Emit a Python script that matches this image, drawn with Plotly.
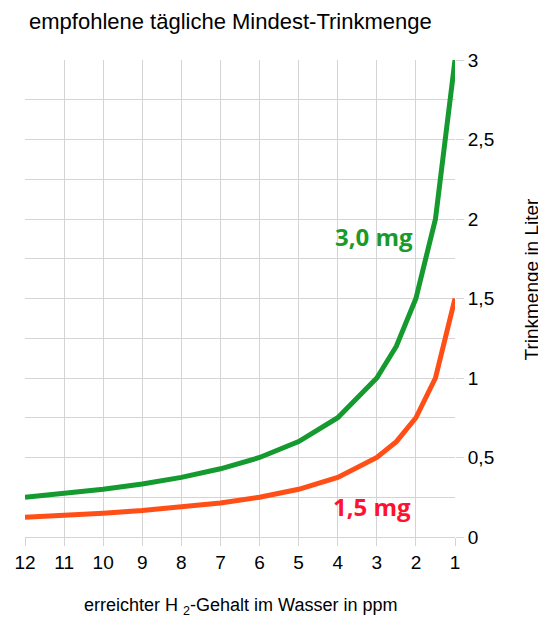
import plotly.graph_objects as go

ppm = [12, 11, 10, 9, 8, 7, 6, 5, 4, 3, 2.5, 2, 1.5, 1]
liter_3mg = [0.25, 0.273, 0.3, 0.333, 0.375, 0.429, 0.5, 0.6, 0.75, 1.0, 1.2, 1.5, 2.0, 3.0]
liter_15mg = [0.125, 0.136, 0.15, 0.167, 0.188, 0.214, 0.25, 0.3, 0.375, 0.5, 0.6, 0.75, 1.0, 1.5]
x_ticks = [12, 11, 10, 9, 8, 7, 6, 5, 4, 3, 2, 1]
y_ticks = [0, 0.5, 1, 1.5, 2, 2.5, 3]
y_labels = ["0", "0,5", "1", "1,5", "2", "2,5", "3"]

fig = go.Figure()
fig.add_trace(go.Scatter(x=ppm, y=liter_15mg, mode="lines",
                         line=dict(color="#ff4f17", width=5), name="1,5 mg"))
fig.add_trace(go.Scatter(x=ppm, y=liter_3mg, mode="lines",
                         line=dict(color="#149a2e", width=5), name="3,0 mg"))

grid = "#d4d4d4"
fig.update_layout(
    width=538, height=615,
    margin=dict(l=17, r=91, t=52, b=86, autoexpand=False),
    paper_bgcolor="white", plot_bgcolor="white",
    showlegend=False,
    font=dict(family="Liberation Sans, Arial, sans-serif", color="black"),
    xaxis=dict(range=[12, 1], tickvals=x_ticks, ticktext=[str(v) for v in x_ticks],
               showgrid=True, gridcolor=grid, gridwidth=1, zeroline=False,
               ticks="outside", ticklen=8, tickcolor=grid, automargin=False,
               showline=True, linecolor=grid, linewidth=1,
               tickfont=dict(size=19), fixedrange=True),
    yaxis=dict(range=[0, 3], side="right", tickvals=y_ticks, ticktext=y_labels,
               showgrid=True, gridcolor=grid, gridwidth=1, zeroline=False,
               minor=dict(dtick=0.25, showgrid=True, gridcolor=grid, gridwidth=1),
               ticks="outside", ticklen=8, tickcolor=grid, automargin=False,
               tickfont=dict(size=19), fixedrange=True),
)

fig.add_annotation(text="empfohlene tägliche Mindest-Trinkmenge", xref="paper", yref="paper",
                   x=0.004, y=1.0, yshift=53, xanchor="left", yanchor="top",
                   showarrow=False, font=dict(size=22, color="black"))
fig.add_annotation(text="erreichter H <sub>2</sub>-Gehalt im Wasser in ppm", xref="paper", yref="paper",
                   x=0.5, y=0, yshift=-69, xanchor="center", yanchor="middle",
                   showarrow=False, font=dict(size=18, color="black"))
fig.add_annotation(text="Trinkmenge in Liter", xref="paper", yref="paper",
                   x=1.0, xshift=76, y=0.5, yshift=19, xanchor="center", yanchor="middle",
                   textangle=-90, showarrow=False, font=dict(size=19, color="black"))
fig.add_annotation(text="<b>3,0 mg</b>", x=3.08, y=1.89, xref="x", yref="y",
                   showarrow=False, font=dict(family="Open Sans, sans-serif", size=24, color="#1a9a2a"))
fig.add_annotation(text="<b>1,5 mg</b>", x=3.12, y=0.19, xref="x", yref="y",
                   showarrow=False, font=dict(family="Open Sans, sans-serif", size=24, color="#ff1230"))

fig.write_html("out.html")
